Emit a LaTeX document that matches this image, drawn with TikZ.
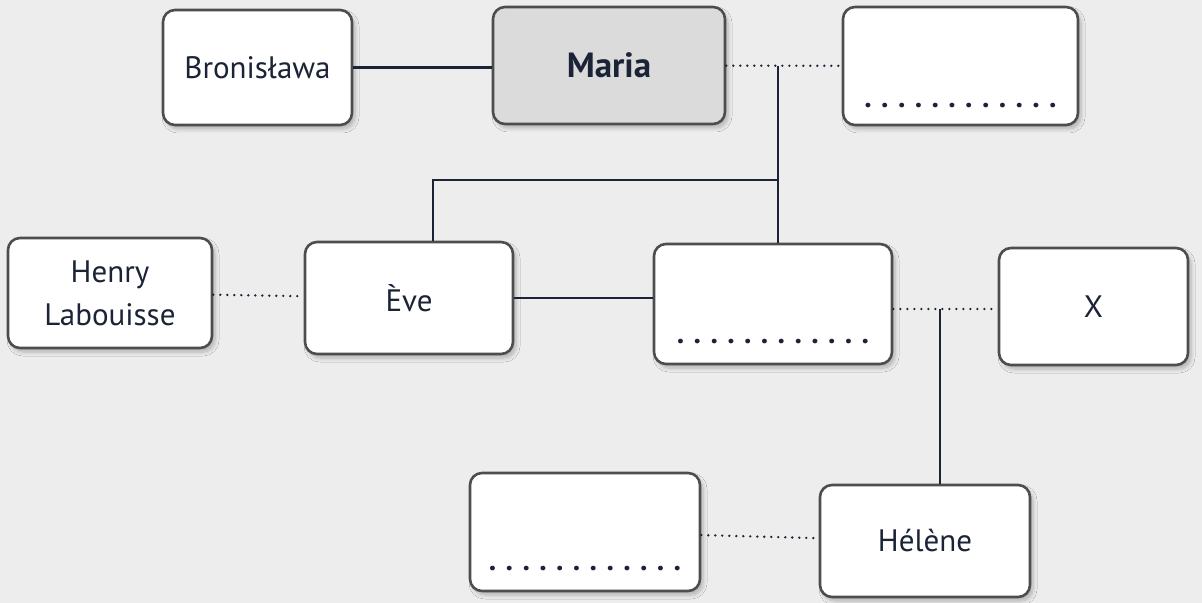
\documentclass[tikz,border=0pt]{standalone}
\usepackage{fontspec}
\setmainfont{PT Sans}
\usetikzlibrary{positioning,shadows.blur}
\definecolor{paper}{HTML}{EDEDED}
\definecolor{mariagrey}{HTML}{DBDBDB}
\definecolor{rim}{HTML}{4D4D4D}
\definecolor{ink}{HTML}{1B2336}

\newcommand{\fillin}{\foreach \i in {1,...,12}{\makebox[8.4pt][c]{\textbf{.}}}}

\begin{document}
\begin{tikzpicture} [x=0.5pt,y=-0.5pt,line width=1pt,
  person/.style={draw=rim,line width=1.3pt,rounded corners=6pt,fill=white,
    text=ink,align=center,font=\fontsize{15.5}{21.5}\selectfont,
    blur shadow={shadow xshift=1.5pt,shadow yshift=-2pt,shadow opacity=25,shadow blur steps=6}},
  wed/.style={draw=ink,line width=1.3pt},
  union/.style={draw=ink,line width=1.3pt,line cap=round,dash pattern=on 0pt off 3.5pt},
  blank/.style={inner sep=0pt,text=ink,font=\fontsize{15}{17}\selectfont}]

  \fill[paper] (0,0) rectangle (1202,603);
  \useasboundingbox (0,0) rectangle (1202,603);

  \node[person, minimum width=94.5pt, minimum height=57.5pt] (bron) at (257.5,67.5) {Bronisława};
  \node[person, fill=mariagrey, minimum width=116pt, minimum height=58.5pt,
    font=\fontsize{17.5}{21.5}\selectfont\bfseries] (maria) at (609,65.5) {Maria};
  \node[person, minimum width=117.5pt, minimum height=59pt] (spouse) at (960.5,66) {};
  \node[person, minimum width=102pt, minimum height=55pt] (henry) at (110,293) {Henry\\Labouisse};
  \node[person, minimum width=104pt, minimum height=56pt] (eve) at (409,298) {Ève};
  \node[person, minimum width=119pt, minimum height=60pt] (child) at (773,304) {};
  \node[person, minimum width=94.5pt, minimum height=58.5pt] (xnode) at (1093.5,306.5) {X};
  \node[person, minimum width=115pt, minimum height=59pt] (grand) at (585,532) {};
  \node[person, minimum width=105pt, minimum height=56pt] (helene) at (925,541) {Hélène};

  \node[blank, above=8.5pt of spouse.south] (spousedots) {\fillin};
  \node[blank, above=10pt of child.south] (childdots) {\fillin};
  \node[blank, above=10pt of grand.south] (granddots) {\fillin};

  \coordinate (mm) at (778,66);
  \coordinate (fork) at (433,180);
  \coordinate (cx) at (940,309);

  \path
    (bron.east) edge [wed] (bron.east -| maria.west)
    (maria) edge [union] (spouse)
    (henry) edge [union] (eve)
    (eve.east) edge [wed] (eve.east -| child.west)
    (grand) edge [union] (helene)
    (child.east |- cx) edge [union] (xnode.west |- cx);

  \draw[wed] (mm) -- (mm |- child.north);
  \draw[wed] (fork |- eve.north) -- (fork) -- (fork -| mm);
  \draw[wed] (cx) -- (cx |- helene.north);

\end{tikzpicture}
\end{document}
